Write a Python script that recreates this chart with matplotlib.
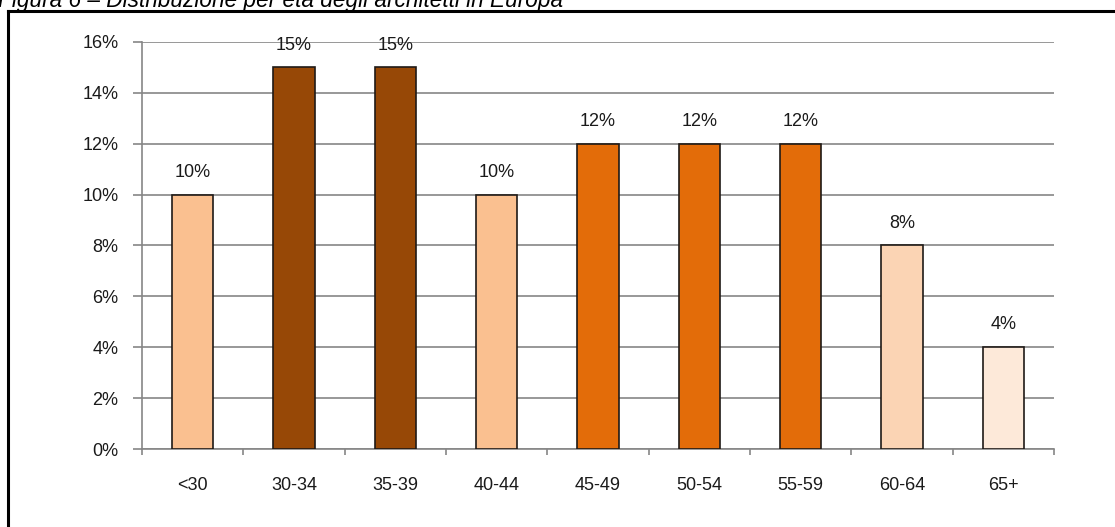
import matplotlib
matplotlib.use("Agg")
import matplotlib.pyplot as plt
from matplotlib.lines import Line2D
from matplotlib.ticker import FixedLocator, PercentFormatter

categories = ["<30", "30-34", "35-39", "40-44", "45-49", "50-54", "55-59", "60-64", "65+"]
values = [10, 15, 15, 10, 12, 12, 12, 8, 4]
bar_colors = ["#FAC090", "#974806", "#974806", "#FAC090", "#E36C09",
              "#E36C09", "#E36C09", "#FBD4B4", "#FDE9D9"]
title = "Figura 6 – Distribuzione per età degli architetti in Europa"

plt.rcParams["font.family"] = ["Liberation Sans", "DejaVu Sans"]

W, H = 1115, 527
fig = plt.figure(figsize=(W / 100, H / 100), dpi=100)
ax = fig.add_axes([142 / W, (H - 449) / H, (1054 - 142) / W, (449 - 42) / H])

FS = 13
x = list(range(len(categories)))
ax.bar(x, values, width=0.41, color=bar_colors, edgecolor="#1F1A17", linewidth=1.2, zorder=3)
for xi, v in zip(x, values):
    ax.annotate(f"{v}%", (xi, v), xytext=(0, 10), textcoords="offset points",
                ha="center", va="bottom", fontsize=FS, color="#1a1a1a", zorder=4)

ax.set_xlim(-0.5, len(categories) - 0.5)
ax.set_ylim(0, 16)
ax.yaxis.set_major_locator(FixedLocator(range(0, 17, 2)))
ax.yaxis.set_major_formatter(PercentFormatter(decimals=0))
ax.set_xticks(x)
ax.set_xticklabels(categories)
ax.xaxis.set_minor_locator(FixedLocator([i - 0.5 for i in range(len(categories) + 1)]))
ax.tick_params(axis="x", which="major", length=0, pad=20, labelsize=FS, labelcolor="#1a1a1a")
ax.tick_params(axis="x", which="minor", length=4.5, width=1.2, color="#868686", direction="out")
ax.tick_params(axis="y", length=6.5, width=1.2, color="#868686", pad=10.5, labelsize=FS,
               labelcolor="#1a1a1a")

ax.grid(axis="y", color="#868686", linewidth=1.2, zorder=0)
for s in ["top", "right"]:
    ax.spines[s].set_visible(False)
for s in ["left", "bottom"]:
    ax.spines[s].set_color("#868686")
    ax.spines[s].set_linewidth(1.2)

# outer frame (top and left edges)
fig.add_artist(Line2D([8 / W, 1.0], [1 - 10.5 / H, 1 - 10.5 / H], color="black", linewidth=2.2,
                      transform=fig.transFigure))
fig.add_artist(Line2D([8 / W, 8 / W], [0, 1 - 10.5 / H], color="black", linewidth=2.2,
                      transform=fig.transFigure))

fig.text(-2 / W, 1 - 7 / H, title, fontsize=16.3, style="italic", ha="left", va="baseline",
         color="black")

fig.savefig("out.png", dpi=100)
